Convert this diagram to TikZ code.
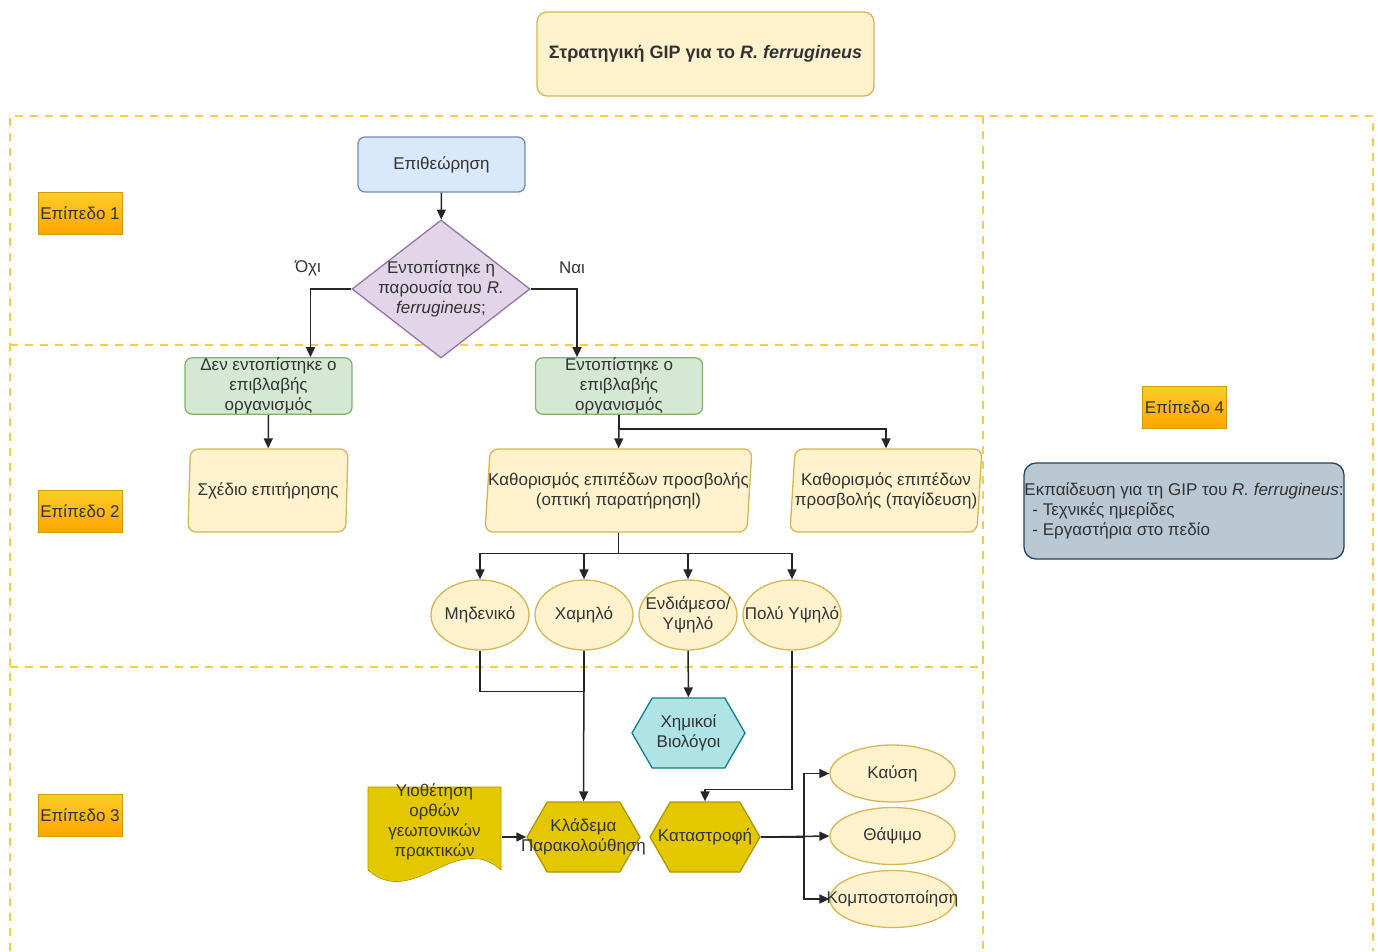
\documentclass[tikz,border=0pt]{standalone}
\usepackage{fontspec}
\setmainfont{Liberation Sans}
\usetikzlibrary{arrows.meta,shapes.geometric,shapes.symbols}

\definecolor{framey}{HTML}{F8CD45}
\definecolor{paleyellow}{HTML}{FFF2CC}
\definecolor{yellowline}{HTML}{D6B656}
\definecolor{bluefill}{HTML}{DAE8FC}
\definecolor{blueline}{HTML}{6C8EBF}
\definecolor{purplefill}{HTML}{E1D5E7}
\definecolor{purpleline}{HTML}{9673A6}
\definecolor{greenfill}{HTML}{D5E8D4}
\definecolor{greenline}{HTML}{82B366}
\definecolor{tealfill}{HTML}{B0E3E6}
\definecolor{tealline}{HTML}{0E8088}
\definecolor{goldfill}{HTML}{E3C800}
\definecolor{goldline}{HTML}{B09500}
\definecolor{greyfill}{HTML}{BAC8D3}
\definecolor{greyline}{HTML}{23445D}
\definecolor{orangetop}{HTML}{FFCD28}
\definecolor{orangebot}{HTML}{FFA500}
\definecolor{orangeline}{HTML}{D79B00}
\definecolor{ink}{HTML}{333333}

\begin{document}
\begin{tikzpicture}[x=1pt,y=-1pt,
    font=\fontsize{17}{20}\selectfont,
    every node/.style={align=center,text=ink,line width=1.3pt},
    frame/.style={draw=framey,line width=2.5pt,dash pattern=on 8pt off 7pt},
    arr/.style={draw=black!85,line width=1.5pt,-{Triangle[length=10pt,width=9pt]}},
    wire/.style={draw=black!85,line width=1.5pt},
    levelbox/.style={rectangle,draw=orangeline,line width=0.6pt,top color=orangetop,bottom color=orangebot,minimum width=84,minimum height=42,inner sep=0},
    rbox/.style={rectangle,rounded corners=7,minimum width=167,minimum height=56,inner sep=0},
    paral/.style={trapezium,trapezium left angle=82,trapezium right angle=98,trapezium stretches body,rounded corners=8,fill=paleyellow,draw=yellowline,minimum height=83,inner xsep=-8pt,inner ysep=0},
    oval/.style={ellipse,fill=paleyellow,draw=yellowline,inner xsep=-20pt,inner ysep=0},
    hexa/.style={signal,signal to=east and west,signal pointer angle=120,minimum width=113,minimum height=70,inner xsep=-15pt,inner ysep=0}
  ]
    \useasboundingbox (0,0) rectangle (1378,951);

    \draw[frame] (10,951) -- (10,116) -- (1373,116) -- (1373,951);
    \draw[frame] (983,116) -- (983,951);
    \draw[frame] (10,345) -- (983,345);
    \draw[frame] (10,667) -- (983,667);

    \node[rbox,rounded corners=10,fill=paleyellow,draw=yellowline,minimum width=337,minimum height=84,font=\fontsize{18}{22}\selectfont\bfseries] (t) at (705.5,54)
      {Στρατηγική GIP για το \textit{R. ferrugineus}};

    \node[levelbox] (lv1) at (80,213) {Επίπεδο 1};
    \node[levelbox] (lv2) at (80,511) {Επίπεδο 2};
    \node[levelbox] (lv3) at (80,815) {Επίπεδο 3};
    \node[levelbox] (lv4) at (1184.5,407) {Επίπεδο 4};

    \node[rbox,fill=bluefill,draw=blueline,minimum height=55] (a) at (441.5,164.5) {Επιθεώρηση};
    \node[diamond,aspect=1.29,fill=purplefill,draw=purpleline,minimum width=178,minimum height=138,inner sep=-7pt] (b) at (441,289)
      {Εντοπίστηκε η\\παρουσία του \textit{R.}\\\textit{ferrugineus};};
    \node (no) at (308,268) {Όχι};
    \node (yes) at (572,268) {Ναι};

    \node[rbox,fill=greenfill,draw=greenline] (c) at (268.5,386) {Δεν εντοπίστηκε ο\\επιβλαβής\\οργανισμός};
    \node[rbox,fill=greenfill,draw=greenline] (d) at (619,386) {Εντοπίστηκε ο\\επιβλαβής\\οργανισμός};

    \node[paral,minimum width=160] (e) at (268,490.5) {Σχέδιο επιτήρησης};
    \node[paral,minimum width=267] (f) at (618.5,490.5) {Καθορισμός επιπέδων προσβολής\\(οπτική παρατήρησηl)};
    \node[paral,minimum width=192] (g) at (886,490.5) {Καθορισμός επιπέδων\\προσβολής (παγίδευση)};

    \node[oval,minimum width=98,minimum height=70] (h) at (480,615) {Μηδενικό};
    \node[oval,minimum width=98,minimum height=70] (i) at (584,615) {Χαμηλό};
    \node[oval,minimum width=98,minimum height=70] (j) at (688,615) {Ενδιάμεσο/\\Υψηλό};
    \node[oval,minimum width=98,minimum height=70] (k) at (792,615) {Πολύ Υψηλό};

    \node[hexa,fill=tealfill,draw=tealline] (l) at (688.5,733) {Χημικοί\\Βιολόγοι};
    \node[hexa,fill=goldfill,draw=goldline] (m) at (583.5,837) {Κλάδεμα\\\makebox[0pt]{Παρακολούθηση}};
    \node[hexa,fill=goldfill,draw=goldline,minimum width=110] (n) at (705,837) {Καταστροφή};

    \filldraw[fill=goldfill,draw=goldline,line width=0.6pt] (368,787) -- (501,787) -- (501,870)
      .. controls (456,830) and (413,910) .. (368,870) -- cycle;
    \node[minimum width=133,inner sep=0] (o) at (434.5,822) {Υιοθέτηση\\ορθών\\γεωπονικών\\πρακτικών};

    \node[oval,minimum width=125,minimum height=57] (p) at (892.5,773.5) {Καύση};
    \node[oval,minimum width=125,minimum height=57] (q) at (892.5,836) {Θάψιμο};
    \node[oval,minimum width=125,minimum height=57] (r) at (892.5,899) {\makebox[0pt]{Κομποστοποίηση}};

    \node[rbox,rounded corners=12,fill=greyfill,draw=greyline,minimum width=320,minimum height=96,align=left] (s) at (1184,511)
      {Εκπαίδευση για τη GIP του \textit{R. ferrugineus}:\\\hspace{8pt}- Τεχνικές ημερίδες\\\hspace{8pt}- Εργαστήρια στο πεδίο};

    \draw[arr] (a) -- (b);
    \draw[arr] (b.west) -| ([xshift=42pt]c.north);
    \draw[arr] (b.east) -| ([xshift=-42pt]d.north);
    \draw[arr] (c) -- (e);
    \draw[arr] (d) -- (f);
    \draw[arr] (d.south) -- ++(0,14) -| (g.north);
    \draw[arr] (f.south) -- ++(0,21) -| (h.north);
    \draw[arr] (f.south) -- ++(0,21) -| (i.north);
    \draw[arr] (f.south) -- ++(0,21) -| (j.north);
    \draw[arr] (f.south) -- ++(0,21) -| (k.north);
    \draw[wire] (h.south) -- ++(0,41) -| (i.south);
    \draw[arr] (i) -- (m);
    \draw[arr] (j) -- (l);
    \draw[arr] (k.south) -- ++(0,139) -| (n.north);
    \draw[arr] (o.east |- m.west) -- (m.west);
    \draw[arr] (n.east) -- ++(43,0) |- (p.west);
    \draw[arr] (n.east) -- (q.west);
    \draw[arr] (n.east) -- ++(43,0) |- (r.west);
  \end{tikzpicture}
\end{document}
